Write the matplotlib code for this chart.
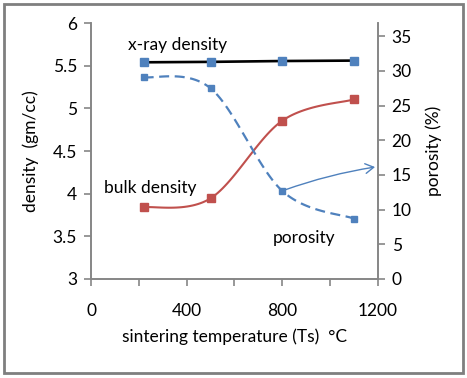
import numpy as np
import matplotlib
matplotlib.use('Agg')
import matplotlib.pyplot as plt
from matplotlib.ticker import FormatStrFormatter, MultipleLocator
from matplotlib.patches import Rectangle

# données
temperature = [220, 500, 800, 1100]
xray_density = [5.54, 5.545, 5.555, 5.56]
bulk_density = [3.84, 3.945, 4.855, 5.105]
porosity = [29.1, 27.5, 12.7, 8.7]

blue = '#4F81BD'
red = '#C0504D'
grey = '#868686'

plt.rcParams['font.family'] = ['Lato', 'DejaVu Sans']
fs = 12.5


def smooth(x, y, n=30):
    # courbe lissée façon Excel (Catmull-Rom / Bezier)
    x = np.asarray(x, float)
    y = np.asarray(y, float)
    px = np.concatenate([[x[0]], x, [x[-1]]])
    py = np.concatenate([[y[0]], y, [y[-1]]])
    xs, ys = [], []
    t = np.linspace(0, 1, n)
    for i in range(1, len(px) - 2):
        p0 = np.array([px[i], py[i]])
        p3 = np.array([px[i + 1], py[i + 1]])
        c1 = p0 + (np.array([px[i + 1], py[i + 1]]) - np.array([px[i - 1], py[i - 1]])) / 6
        c2 = p3 - (np.array([px[i + 2], py[i + 2]]) - np.array([px[i], py[i]])) / 6
        for tt in t:
            b = ((1 - tt) ** 3) * p0 + 3 * ((1 - tt) ** 2) * tt * c1 + 3 * (1 - tt) * tt ** 2 * c2 + tt ** 3 * p3
            xs.append(b[0])
            ys.append(b[1])
    return xs, ys


fig = plt.figure(figsize=(4.67, 3.78), dpi=100)
ax = fig.add_axes([0.195, 0.262, 0.614, 0.677])
ax2 = ax.twinx()

# x-ray density
ax.plot(temperature, xray_density, color='black', lw=1.9, zorder=3)
ax.plot(temperature, xray_density, ls='none', marker='s', ms=5.5, color=blue, zorder=4)

# bulk density
sx, sy = smooth(temperature, bulk_density)
ax.plot(sx, sy, color=red, lw=1.5, zorder=3)
ax.plot(temperature, bulk_density, ls='none', marker='s', ms=5.5, color=red, zorder=4)

# porosité
sx, sy = smooth(temperature, porosity)
ax2.plot(sx, sy, color=blue, lw=1.6, ls=(0, (4.5, 2.5)), zorder=3)
ax2.plot(temperature, porosity, ls='none', marker='s', ms=3.8, color=blue, zorder=4)

ax.set_xlim(0, 1200)
ax.set_ylim(3, 6)
ax2.set_ylim(0, 36.9)

ax.xaxis.set_major_locator(MultipleLocator(400))
ax.xaxis.set_minor_locator(MultipleLocator(200))
ax.yaxis.set_major_locator(MultipleLocator(0.5))
ax.yaxis.set_major_formatter(FormatStrFormatter('%g'))
ax2.set_yticks(range(0, 36, 5))

for a in (ax, ax2):
    for s in a.spines.values():
        s.set_color(grey)
        s.set_linewidth(1.2)
    a.spines['top'].set_visible(False)
    a.tick_params(which='both', color=grey, length=5, width=1.2, labelsize=fs)
ax.tick_params(axis='x', which='major', pad=12)
ax.tick_params(axis='y', pad=5)
ax2.tick_params(axis='y', pad=5)

ax.set_xlabel('sintering temperature (Ts)  °C', fontsize=fs, labelpad=7)
ax.set_ylabel('density  (gm/cc)', fontsize=fs, labelpad=10)
ax2.set_ylabel('porosity (%)', fontsize=fs, rotation=90, labelpad=10)

ax.text(0.13, 0.895, 'x-ray density', transform=ax.transAxes, fontsize=fs)
ax.text(0.045, 0.335, 'bulk density', transform=ax.transAxes, fontsize=fs)
ax.text(0.635, 0.14, 'porosity', transform=ax.transAxes, fontsize=fs)

ax2.annotate('', xy=(1200, 16.2), xytext=(temperature[2], porosity[2]),
             arrowprops=dict(arrowstyle='->,head_length=0.6,head_width=0.35', color=blue, lw=1,
                             connectionstyle='arc3,rad=-0.05'),
             annotation_clip=False)

# cadre gris autour de la figure
fig.patches.append(Rectangle((0.008, 0.012), 0.984, 0.978, transform=fig.transFigure,
                             fill=False, edgecolor='#7F7F7F', lw=2))

fig.savefig('out.png', dpi=100)
